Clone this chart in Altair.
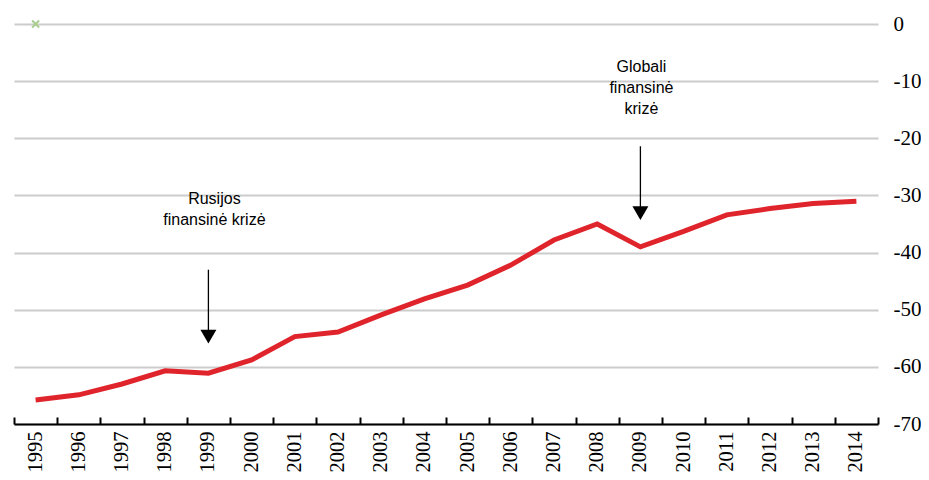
import altair as alt
import pandas as pd

years = [str(y) for y in range(1995, 2015)]
values = [-65.8, -64.9, -63.0, -60.7, -61.1, -58.8, -54.7, -53.9, -50.9, -48.1,
          -45.7, -42.2, -37.8, -35.0, -39.0, -36.3, -33.4, -32.3, -31.4, -31.0]
y_ticks = [0, -10, -20, -30, -40, -50, -60, -70]

marker_year = ["1995"]
marker_value = [0]

ann1_year = ["1999"]
ann1_text = ["Rusijos\nfinansinė krizė"]
ann1_text_y = [-29.3]
ann1_arrow = [-43.0]
ann1_arrow_end = [-54.0]
ann1_head = [-54.7]

ann2_year = ["2009"]
ann2_text = ["Globali\nfinansinė\nkrizė"]
ann2_text_y = [-6.2]
ann2_arrow = [-21.4]
ann2_arrow_end = [-32.0]
ann2_head = [-33.1]

df = pd.DataFrame({"Year": years, "Value": values})
mk = pd.DataFrame({"Year": marker_year, "Value": marker_value})
a1 = pd.DataFrame({"Year": ann1_year, "t": ann1_text, "ty": ann1_text_y,
                   "y1": ann1_arrow, "y2": ann1_arrow_end, "h": ann1_head})
a2 = pd.DataFrame({"Year": ann2_year, "t": ann2_text, "ty": ann2_text_y,
                   "y1": ann2_arrow, "y2": ann2_arrow_end, "h": ann2_head})

x_scale = alt.Scale(type="band", domain=years, paddingInner=0, paddingOuter=0)
y_scale = alt.Scale(domain=[-70, 0], nice=False, zero=False)

x_main = alt.X("Year:O", scale=x_scale, title=None,
               axis=alt.Axis(orient="bottom", labelAngle=-90, labelFont="Liberation Serif",
                             labelFontSize=20.5, labelColor="black", labelPadding=7,
                             ticks=False, tickSize=0, domainColor="black", domainWidth=2,
                             grid=False))
y_main = alt.Y("Value:Q", scale=y_scale, title=None,
               axis=alt.Axis(orient="right", values=y_ticks, labelExpr="'' + datum.value",
                             labelFont="Liberation Serif", labelFontSize=21, labelColor="black",
                             labelPadding=15, labelAlign="left", domain=False, ticks=False,
                             grid=True, gridColor="#cccccc", gridWidth=2))

x_none = alt.X("Year:O", scale=x_scale, title=None, axis=None)

def y_enc(field):
    return alt.Y(field, scale=y_scale, title=None)

line = alt.Chart(df).mark_line(color="#e0242c", strokeWidth=5).encode(x=x_main, y=y_main)

marker = alt.Chart(mk).mark_point(
    shape="M-1,-1L1,1M1,-1L-1,1", filled=False, size=49, strokeWidth=2,
    color="#a9cd8e", opacity=1
).encode(
    x=alt.X("Year:O", scale=x_scale, title=None,
            axis=alt.Axis(orient="top", offset=-400, labels=False, domain=False, ticks=True,
                          tickSize=7, tickBand="extent", tickColor="black", tickWidth=2,
                          grid=False)),
    y=y_enc("Value:Q"),
)

def annotation(d, dx):
    txt = alt.Chart(d).mark_text(
        font="Liberation Sans", fontSize=16, lineHeight=21, baseline="top",
        align="center", dx=dx, color="black", lineBreak="\n"
    ).encode(x=x_none, y=y_enc("ty:Q"), text="t:N")
    rule = alt.Chart(d).mark_rule(color="black", strokeWidth=1.3).encode(
        x=x_none, y=y_enc("y1:Q"), y2="y2:Q")
    head = alt.Chart(d).mark_point(shape="triangle-down", filled=True, size=256,
                                   color="black", opacity=1).encode(
        x=x_none, y=y_enc("h:Q"))
    return [txt, rule, head]

chart = alt.layer(line, marker, *annotation(a1, 6), *annotation(a2, 1)).resolve_axis(
    x="independent"
).properties(
    width=864, height=400,
    autosize=alt.AutoSizeParams(type="none"),
    padding={"left": 6, "top": 16, "right": 43, "bottom": 48},
    background="white",
).configure_view(stroke=None)

chart.save("out.html", embed_options={"renderer": "svg", "actions": False})
